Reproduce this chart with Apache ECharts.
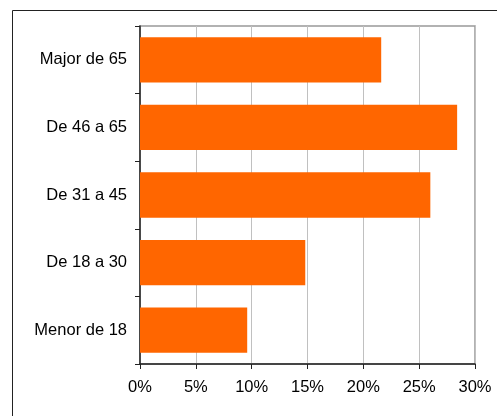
<!DOCTYPE html>
<html>
<head>
<meta charset="utf-8">
<script src="https://cdn.jsdelivr.net/npm/echarts@6/dist/echarts.min.js"></script>
<style>
html,body{margin:0;padding:0;background:#fff;}
#chart{width:497px;height:416px;}
</style>
</head>
<body>
<div id="chart"></div>
<script>
var categories = ['Major de 65', 'De 46 a 65', 'De 31 a 45', 'De 18 a 30', 'Menor de 18'];
var values = [21.6, 28.4, 26.0, 14.8, 9.6];
var tickLabels = ['0%', '5%', '10%', '15%', '20%', '25%', '30%'];

var chart = echarts.init(document.getElementById('chart'), null, {renderer: 'canvas'});
var font = 'Liberation Sans, Arial, sans-serif';
chart.setOption({
  animation: false,
  backgroundColor: '#fff',
  graphic: [{
    type: 'rect',
    shape: {x: 12.5, y: 10.5, width: 520, height: 440},
    style: {fill: 'none', stroke: '#222', lineWidth: 1},
    silent: true,
    z: 100
  }],
  grid: {
    left: 140, top: 26, right: 22, bottom: 52,
    show: true, borderColor: '#999', borderWidth: 1.5,
    containLabel: false
  },
  xAxis: {
    type: 'value', min: 0, max: 30, interval: 5,
    axisLine: {show: true, lineStyle: {color: '#222', width: 1.5}},
    axisTick: {show: true, length: 5, lineStyle: {color: '#222'}},
    axisLabel: {
      color: '#000', fontFamily: font, fontSize: 16.5, margin: 15,
      formatter: function (v) { return tickLabels[Math.round(v / 5)]; }
    },
    splitLine: {show: true, lineStyle: {color: '#c0c0c0', width: 1}}
  },
  yAxis: {
    type: 'category', data: categories, inverse: true,
    axisLine: {show: true, lineStyle: {color: '#222', width: 1.5}},
    axisTick: {show: true, length: 5, lineStyle: {color: '#222'}},
    axisLabel: {color: '#000', fontFamily: font, fontSize: 16.5, margin: 13},
    splitLine: {show: false}
  },
  series: [{
    type: 'bar', data: values, barCategoryGap: '33%',
    itemStyle: {color: '#FF6600'}
  }]
});
</script>
</body>
</html>
